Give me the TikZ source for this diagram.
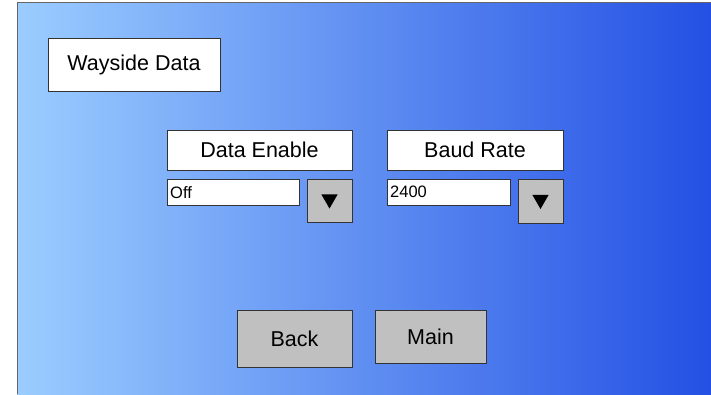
\documentclass[tikz,border=0pt]{standalone}
\usepackage{fontspec}
\setmainfont{Liberation Sans}
\usetikzlibrary{shapes.geometric, positioning}

\definecolor{paneleft}{RGB}{155,205,255}
\definecolor{paneright}{RGB}{36,80,228}
\definecolor{btngray}{RGB}{192,192,192}

\begin{document}
\begin{tikzpicture}[x = 1pt, y = -1pt, % screen pixels, y down
                font = \fontsize{21.5}{25}\selectfont,
                thin % line style
            ]

            \tikzstyle{label}=[draw = black!80, fill = white, inner sep = 0pt]
            \tikzstyle{field}=[draw = black!80, fill = white, inner sep = 3pt,
            anchor = north west, align = left, minimum height = 26pt,
            font = \fontsize{16.5}{18}\selectfont]
            \tikzstyle{button}=[draw = black!80, fill = btngray, inner sep = 0pt]
            \tikzstyle{arrowdown}=[regular polygon, regular polygon sides = 3,
            shape border rotate = 180, fill = black, inner sep = 0pt,
            minimum size = 19pt]

            \useasboundingbox (0,0) rectangle (711,394);

            % background panel
            \shade[left color = paneleft, right color = paneright] (17,2)
            rectangle (711,394);
            \draw[black!60] (17,394) -- (17,2) -- (711,2);

            \node[label, minimum width = 172pt, minimum height = 53pt] (title)
            at (134,64.5) {Wayside Data};

            \node[label, minimum width = 185pt, minimum height = 40pt] (enable)
            at (259.5,150) {Data Enable}; \node[label, minimum width = 176pt,
            minimum height = 40pt] (baud) at (475,150) {Baud Rate};

            \node[field, text width = 126pt] (enableval) at (167,179) {Off};
            \node[field, text width = 117pt] (baudval) at (387,179) {2400};

            \node[button, minimum width = 45pt, minimum height = 43pt]
            (enablebtn) at (329.5,200.5) {}; \node[button, minimum width =
            45pt, minimum height = 44pt] (baudbtn) at (540.5,201) {};
            \node[arrowdown] (enablearr) at ([yshift=1.5pt]enablebtn.center)
            {}; \node[arrowdown] (baudarr) at ([yshift=1.5pt]baudbtn.center)
            {};

            \node[button, minimum width = 115pt, minimum height = 57pt] (back)
            at (294.5,338.5) {Back}; \node[button, minimum width = 111pt,
            minimum height = 53pt] (main) at (430.5,336.5) {Main};
            \end{tikzpicture}
\end{document}
